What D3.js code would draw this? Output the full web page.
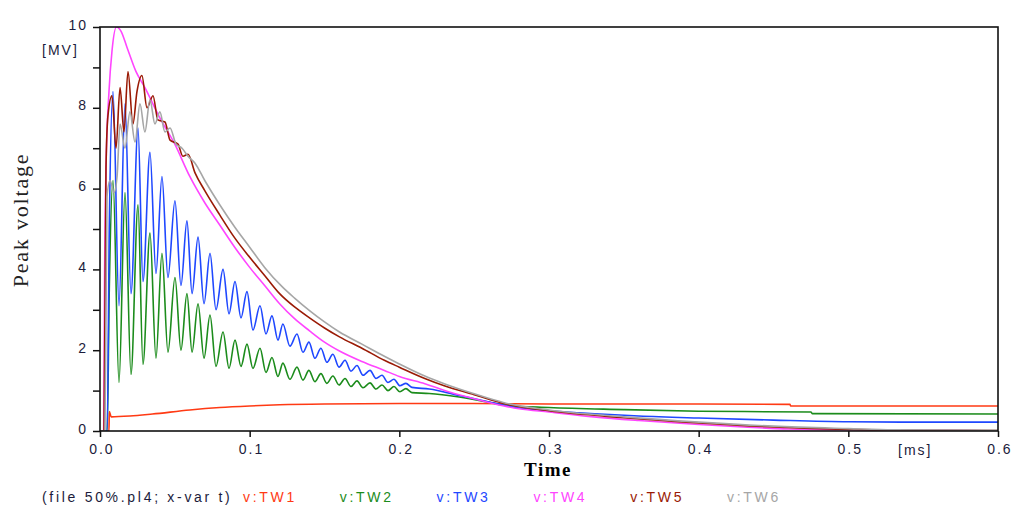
<!DOCTYPE html>
<html>
<head>
<meta charset="utf-8">
<script src="https://cdn.jsdelivr.net/npm/d3@7"></script>
<style>
    body { margin: 0; background: #fff; }
    svg { display: block; }
    .tick text { font-family: Arial, "Liberation Sans", sans-serif; font-size: 14px; letter-spacing: 2px; fill: #1c1c3c; }
    .tick line { stroke: #111; stroke-width: 1.5; }
    .unit { font-family: Arial, "Liberation Sans", sans-serif; font-size: 14px; letter-spacing: 2px; fill: #1c1c3c; }
    .legend { font-family: Arial, "Liberation Sans", sans-serif; font-size: 14px; letter-spacing: 2.7px; }
    .series { fill: none; stroke-width: 1.6; }
</style>
</head>
<body>
<script>
'use strict';

// time in ms, voltage in MV
const tw1 = [[0, 0], [0.006, 0], [0.0062, 0.48], [0.0075, 0.35], [0.02, 0.37], [0.035, 0.42],
    [0.06, 0.52], [0.08, 0.58], [0.1, 0.62], [0.12, 0.65], [0.15, 0.67], [0.2, 0.68], [0.25, 0.68],
    [0.3, 0.67], [0.4, 0.67], [0.461, 0.66], [0.4615, 0.62], [0.6, 0.62]];

const tw2 = [[0, 0], [0.0048, 0], [0.0062, 3.5], [0.0087, 6.2], [0.0127, 1.2], [0.0167, 5.9], [0.0207, 1.4],
    [0.0254, 5.6], [0.0287, 1.65], [0.0334, 4.9], [0.0374, 1.8], [0.0414, 4.4], [0.0454, 1.95], [0.0501, 3.8],
    [0.0541, 2.0], [0.0581, 3.4], [0.0615, 1.95], [0.0655, 3.15], [0.0695, 1.8], [0.0735, 2.87], [0.0775, 1.6],
    [0.0822, 2.45], [0.0862, 1.55], [0.0902, 2.25], [0.0942, 1.6], [0.0982, 2.15], [0.1022, 1.55], [0.1069, 2.05],
    [0.1109, 1.45], [0.1149, 1.82], [0.1189, 1.35], [0.1222, 1.68], [0.1269, 1.28], [0.1316, 1.58], [0.1356, 1.26],
    [0.1396, 1.5], [0.1436, 1.22], [0.1476, 1.42], [0.1516, 1.18], [0.1556, 1.36], [0.1597, 1.14], [0.1637, 1.3],
    [0.1677, 1.1], [0.1717, 1.24], [0.1757, 1.07], [0.1804, 1.19], [0.1844, 1.04], [0.1884, 1.14], [0.1924, 1.0],
    [0.1964, 1.1], [0.2004, 0.97], [0.2044, 1.05], [0.2084, 0.95], [0.22, 0.93], [0.24, 0.84], [0.26, 0.71],
    [0.27, 0.64], [0.3, 0.58], [0.35, 0.53], [0.4, 0.49], [0.475, 0.47], [0.476, 0.43], [0.6, 0.42]];

const tw3 = [[0, 0], [0.0048, 0], [0.0062, 5.0], [0.0087, 8.4], [0.0127, 3.1], [0.0167, 8.1], [0.0207, 3.4],
    [0.0254, 7.5], [0.0287, 3.7], [0.0334, 6.9], [0.0374, 3.9], [0.0414, 6.3], [0.0454, 3.8], [0.0501, 5.7],
    [0.0541, 3.6], [0.0581, 5.2], [0.0615, 3.4], [0.0655, 4.8], [0.0695, 3.15], [0.0735, 4.4], [0.0775, 3.0],
    [0.0822, 4.0], [0.0862, 2.9], [0.0902, 3.7], [0.0942, 2.8], [0.0982, 3.45], [0.1022, 2.5], [0.1069, 3.1],
    [0.1109, 2.4], [0.1149, 2.85], [0.1189, 2.25], [0.1222, 2.65], [0.1269, 2.1], [0.1316, 2.4], [0.1356, 1.95],
    [0.1396, 2.2], [0.1436, 1.8], [0.1476, 2.05], [0.1516, 1.7], [0.1556, 1.9], [0.1597, 1.58], [0.1637, 1.75],
    [0.1677, 1.48], [0.1717, 1.62], [0.1757, 1.38], [0.1804, 1.5], [0.1844, 1.3], [0.1884, 1.38], [0.1924, 1.2],
    [0.1964, 1.28], [0.2004, 1.12], [0.2044, 1.18], [0.2084, 1.08], [0.22, 1.04], [0.24, 0.88], [0.26, 0.72],
    [0.28, 0.57], [0.3, 0.5], [0.32, 0.45], [0.36, 0.37], [0.4, 0.32], [0.45, 0.27], [0.5, 0.23], [0.55, 0.22],
    [0.6, 0.22]];

const tw4 = [[0, 0], [0.0025, 0], [0.003, 3.5], [0.004, 6.5], [0.006, 8.4], [0.008, 9.4], [0.011, 10.0],
    [0.014, 9.9], [0.018, 9.5], [0.024, 8.9], [0.03, 8.5], [0.04, 7.75], [0.05, 7.1], [0.06, 6.3], [0.07, 5.65],
    [0.08, 5.1], [0.09, 4.55], [0.1, 4.05], [0.11, 3.6], [0.12, 3.15], [0.13, 2.78], [0.14, 2.48], [0.15, 2.2],
    [0.16, 1.98], [0.175, 1.72], [0.19, 1.5], [0.2, 1.35], [0.217, 1.17], [0.234, 0.96], [0.25, 0.8],
    [0.27, 0.62], [0.28, 0.55], [0.3, 0.47], [0.33, 0.35], [0.36, 0.26], [0.4, 0.16], [0.43, 0.1], [0.46, 0.05],
    [0.5, 0.03], [0.55, 0.02], [0.58, 0.01], [0.6, 0.0]];

const tw5 = [[0, 0], [0.0027, 0], [0.004, 6.5], [0.0053, 7.8], [0.008, 8.3], [0.0107, 7.0], [0.0134, 8.5],
    [0.016, 7.4], [0.0187, 8.9], [0.022, 7.6], [0.0247, 8.4], [0.028, 8.8], [0.0314, 8.0], [0.0354, 8.3],
    [0.0387, 7.7], [0.0434, 7.65], [0.0468, 7.2], [0.0521, 7.1], [0.0554, 6.8], [0.0588, 6.85], [0.0635, 6.39],
    [0.07, 5.95], [0.08, 5.35], [0.09, 4.78], [0.1, 4.3], [0.11, 3.85], [0.12, 3.4], [0.13, 3.07], [0.14, 2.8],
    [0.15, 2.55], [0.16, 2.33], [0.175, 2.05], [0.19, 1.75], [0.2, 1.58], [0.217, 1.3], [0.23, 1.12],
    [0.25, 0.9], [0.27, 0.68], [0.3, 0.5], [0.35, 0.33], [0.4, 0.2], [0.45, 0.1], [0.5, 0.04], [0.55, 0.02],
    [0.6, 0.01]];

const tw6 = [[0, 0], [0.0033, 0], [0.0047, 5.8], [0.0067, 6.2], [0.0094, 5.9], [0.0114, 6.3], [0.0134, 7.6],
    [0.0167, 7.0], [0.02, 7.9], [0.0234, 7.15], [0.0267, 8.1], [0.03, 7.4], [0.0334, 8.2], [0.0367, 7.6],
    [0.04, 7.9], [0.0434, 7.4], [0.0468, 7.5], [0.0508, 7.1], [0.0548, 7.0], [0.0588, 6.8], [0.0635, 6.63],
    [0.07, 6.2], [0.08, 5.6], [0.09, 5.05], [0.1, 4.55], [0.11, 4.05], [0.122, 3.56], [0.13, 3.29], [0.14, 2.98],
    [0.15, 2.7], [0.16, 2.45], [0.175, 2.15], [0.19, 1.85], [0.2, 1.66], [0.217, 1.36], [0.23, 1.17],
    [0.25, 0.92], [0.27, 0.7], [0.3, 0.52], [0.35, 0.35], [0.4, 0.22], [0.45, 0.12], [0.5, 0.06], [0.53, 0.03],
    [0.6, 0.02]];

const seriesNames = ['v:TW1', 'v:TW2', 'v:TW3', 'v:TW4', 'v:TW5', 'v:TW6'];
const seriesColors = ['#ff3a14', '#1c8c1c', '#1f48ff', '#ff45ff', '#9a1a05', '#a6a6a6'];
const xTicks = [0, 0.1, 0.2, 0.3, 0.4, 0.5, 0.6];
const yTicks = [0, 1, 2, 3, 4, 5, 6, 7, 8, 9, 10];
const yLabelled = [0, 2, 4, 6, 8, 10];

(function () {

    function getPlotArea() {
        const plot = {
            svg: { width: 1013, height: 509 },
            padding: { top: 27, right: 15, bottom: 78, left: 100 }
        };
        plot.range = {
            x: plot.svg.width - plot.padding.left - plot.padding.right,
            y: plot.svg.height - plot.padding.top - plot.padding.bottom
        };
        return plot;
    }

    function makeScales(plot) {
        return {
            x: d3.scaleLinear().domain([0, 0.6]).range([0, plot.range.x]),
            y: d3.scaleLinear().domain([0, 10]).range([plot.range.y, 0])
        };
    }

    /**
     * Left axis: a tick every 1 MV, a number every 2.
     */
    function appendYAxis(g, scales) {
        const axis = d3.axisLeft(scales.y)
            .tickValues(yTicks)
            .tickSize(7)
            .tickPadding(5)
            .tickFormat(d => yLabelled.includes(d) ? d : '');
        const ax = g.append('g').call(axis);
        ax.select('.domain').remove();
        ax.selectAll('.tick text').attr('dy', '0.15em');
    }

    function appendXAxis(g, scales, plot) {
        const axis = d3.axisBottom(scales.x)
            .tickValues(xTicks)
            .tickSize(6)
            .tickPadding(7)
            .tickFormat(d3.format('.1f'));
        const ax = g.append('g')
            .attr('transform', 'translate(0,' + plot.range.y + ')')
            .call(axis);
        ax.select('.domain').remove();
        ax.selectAll('.tick text').attr('dx', '0.1em');
    }

    /**
     * Black frame round the plot area.
     */
    function appendFrame(g, plot) {
        g.append('rect')
            .attr('x', 0)
            .attr('y', 0)
            .attr('width', plot.range.x)
            .attr('height', plot.range.y)
            .attr('fill', 'none')
            .attr('stroke', '#111')
            .attr('stroke-width', 1.6);
    }

    function appendLines(g, scales, plot) {
        g.append('clipPath')
            .attr('id', 'plotClip')
            .append('rect')
            .attr('width', plot.range.x)
            .attr('height', plot.range.y);
        const line = d3.line()
            .curve(d3.curveMonotoneX)
            .x(d => scales.x(d[0]))
            .y(d => scales.y(d[1]));
        const all = [tw1, tw2, tw3, tw4, tw5, tw6];
        g.append('g')
            .attr('clip-path', 'url(#plotClip)')
            .selectAll('path')
            .data(all)
            .enter()
            .append('path')
            .attr('class', 'series')
            .attr('stroke', (d, i) => seriesColors[i])
            .attr('d', line);
    }

    function appendTexts(svg) {
        svg.append('text')
            .attr('class', 'unit')
            .attr('x', 42)
            .attr('y', 55)
            .text('[MV]');
        svg.append('text')
            .attr('class', 'unit')
            .attr('x', 898)
            .attr('y', 455)
            .text('[ms]');
        svg.append('text')
            .attr('x', 548)
            .attr('y', 476)
            .attr('text-anchor', 'middle')
            .style('font-family', '"Liberation Serif", "Times New Roman", serif')
            .style('font-weight', 'bold')
            .style('font-size', '19px')
            .style('letter-spacing', '1.5px')
            .text('Time');
        svg.append('text')
            .attr('transform', 'translate(28,220) rotate(-90)')
            .attr('text-anchor', 'middle')
            .style('font-family', '"Liberation Serif", "Times New Roman", serif')
            .style('font-size', '22px')
            .style('letter-spacing', '1.8px')
            .style('fill', '#222')
            .text('Peak voltage');
    }

    /**
     * Legend line under the chart: file info then one coloured name per curve.
     */
    function appendLegend(svg) {
        const legend = svg.append('g').attr('class', 'legend');
        legend.append('text')
            .attr('x', 42)
            .attr('y', 502)
            .attr('fill', '#1c1c3c')
            .text('(file 50%.pl4; x-var t)');
        legend.selectAll('text.item')
            .data(seriesNames)
            .enter()
            .append('text')
            .attr('class', 'item')
            .attr('x', (d, i) => 243 + i * 96.8)
            .attr('y', 502)
            .attr('fill', (d, i) => seriesColors[i])
            .text(d => d);
    }

    function draw() {
        const plot = getPlotArea();
        const svg = d3.select('body').append('svg')
            .attr('width', plot.svg.width)
            .attr('height', plot.svg.height);
        svg.append('rect').attr('width', plot.svg.width).attr('height', plot.svg.height).attr('fill', '#fff');
        const g = svg.append('g')
            .attr('transform', 'translate(' + plot.padding.left + ',' + plot.padding.top + ')');
        const scales = makeScales(plot);
        appendLines(g, scales, plot);
        appendFrame(g, plot);
        appendYAxis(g, scales);
        appendXAxis(g, scales, plot);
        appendTexts(svg);
        appendLegend(svg);
    }

    window.onload = draw;

})();
</script>
</body>
</html>
